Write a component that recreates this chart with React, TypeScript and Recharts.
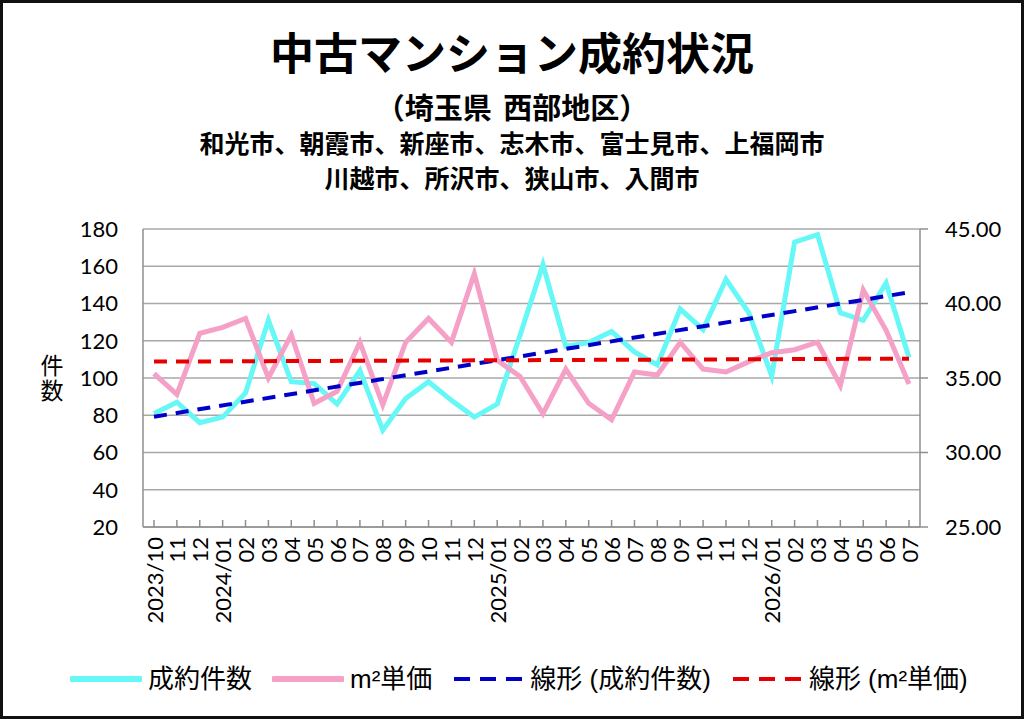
import { CartesianGrid, ComposedChart, Line, ReferenceLine, XAxis, YAxis } from 'recharts';

const months = [
  '2023/10', '2023/11', '2023/12',
  '2024/01', '2024/02', '2024/03', '2024/04', '2024/05', '2024/06',
  '2024/07', '2024/08', '2024/09', '2024/10', '2024/11', '2024/12',
  '2025/01', '2025/02', '2025/03', '2025/04', '2025/05', '2025/06',
  '2025/07', '2025/08', '2025/09', '2025/10', '2025/11', '2025/12',
  '2026/01', '2026/02', '2026/03', '2026/04', '2026/05', '2026/06', '2026/07',
];

const tickLabels = [
  '2023/10', '11', '12',
  '2024/01', '02', '03', '04', '05', '06', '07', '08', '09', '10', '11', '12',
  '2025/01', '02', '03', '04', '05', '06', '07', '08', '09', '10', '11', '12',
  '2026/01', '02', '03', '04', '05', '06', '07',
];

// 成約件数
const counts = [
  81, 87, 76, 79, 92, 131, 98, 97, 86, 104, 72, 89, 98, 88, 79,
  86, 123, 161, 117, 119, 125, 114, 107, 137, 126, 153, 135,
  101, 173, 177, 135, 131, 151, 111,
];

// m²単価 (万円)
const prices = [
  35.3, 33.9, 38.0, 38.4, 39.0, 35.0, 37.9, 33.3, 34.1, 37.4, 33.2, 37.4, 39.0, 37.4, 42.0,
  36.2, 35.1, 32.6, 35.6, 33.3, 32.2, 35.4, 35.2, 37.4, 35.6, 35.4, 36.1,
  36.7, 36.9, 37.4, 34.5, 40.9, 38.2, 34.6,
];

// trend line end points
const countTrend = [79.2, 146];
const priceTrend = [36.1, 36.3];

const leftTicks = [20, 40, 60, 80, 100, 120, 140, 160, 180];
const rightTicks = [25, 30, 35, 40, 45];

const data = months.map((m, i) => ({ month: m, count: counts[i], price: prices[i] }));

const AXIS_GRAY = '#8f8f8f';
const CYAN = '#66F7F7';
const PINK = '#F5A0C6';
const BLUE = '#0000C8';
const RED = '#E80000';
const NUM_FONT = 'Lato, "Noto Sans CJK JP", sans-serif';
const JP_FONT = '"Noto Sans CJK JP", sans-serif';

const XTick = (props: any) => {
  const { x, y, payload } = props;
  const label = tickLabels[payload.index] ?? payload.value;
  return (
    <g>
      <line x1={x} y1={y - 10} x2={x} y2={y - 17} stroke={AXIS_GRAY} strokeWidth={1.5} />
      <text
        x={x}
        y={y}
        transform={`rotate(-90 ${x} ${y})`}
        textAnchor="end"
        dominantBaseline="central"
        fontSize={22}
        fontFamily={NUM_FONT}
        fill="#000"
      >
        {label}
      </text>
    </g>
  );
};

const Swatch = ({ color, dashed }: { color: string; dashed?: boolean }) => (
  <svg width={72} height={10} style={{ marginRight: 6 }}>
    <line
      x1={2}
      y1={5}
      x2={70}
      y2={5}
      stroke={color}
      strokeWidth={dashed ? 4 : 6}
      strokeDasharray={dashed ? '16 10' : undefined}
      strokeLinecap={dashed ? 'butt' : 'round'}
    />
  </svg>
);

const legendItems = [
  { name: '成約件数', color: CYAN, dashed: false },
  { name: 'm²単価', color: PINK, dashed: false },
  { name: '線形 (成約件数)', color: BLUE, dashed: true },
  { name: '線形 (m²単価)', color: RED, dashed: true },
];

export default function App() {
  return (
    <div
      style={{
        position: 'relative',
        width: 1024,
        height: 719,
        boxSizing: 'border-box',
        border: '3px solid #111',
        background: '#fff',
        overflow: 'hidden',
        fontFamily: JP_FONT,
      }}
    >
      <style>{'body{margin:0}'}</style>

      <div style={{ position: 'absolute', left: -3, width: 1024, top: 22, textAlign: 'center', fontSize: 44, lineHeight: '52px', fontWeight: 700 }}>
        中古マンション成約状況
      </div>
      <div
        style={{
          position: 'absolute',
          left: -3,
          width: 1024,
          top: 86,
          textAlign: 'center',
          fontSize: 29,
          lineHeight: '34px',
          fontWeight: 700,
          wordSpacing: 5,
          fontFeatureSettings: '"halt"',
        }}
      >
        （埼玉県 西部地区）
      </div>
      <div style={{ position: 'absolute', left: -3, width: 1024, top: 123, textAlign: 'center', fontSize: 25, lineHeight: '32px', fontWeight: 700 }}>
        和光市、朝霞市、新座市、志木市、富士見市、上福岡市
      </div>
      <div style={{ position: 'absolute', left: -3, width: 1024, top: 158, textAlign: 'center', fontSize: 25, lineHeight: '32px', fontWeight: 700 }}>
        川越市、所沢市、狭山市、入間市
      </div>

      <div
        style={{
          position: 'absolute',
          left: 34,
          top: 351,
          fontSize: 23,
          lineHeight: '30px',
          writingMode: 'vertical-rl',
          textOrientation: 'upright',
          letterSpacing: 2,
        }}
      >
        件数
      </div>

      <div style={{ position: 'absolute', left: -3, top: -3 }}>
        <ComposedChart
          width={1024}
          height={719}
          data={data}
          margin={{ top: 229, right: 14, left: 63, bottom: 82 }}
        >
          <CartesianGrid yAxisId="left" vertical={false} stroke="#a8a8a8" strokeWidth={1.5} />
          <XAxis
            dataKey="month"
            interval={0}
            height={110}
            padding={{ left: 11, right: 11 }}
            tickLine={false}
            tickSize={0}
            tickMargin={10}
            axisLine={{ stroke: AXIS_GRAY, strokeWidth: 1.5 }}
            tick={<XTick />}
          />
          <YAxis
            yAxisId="left"
            domain={[20, 180]}
            ticks={leftTicks}
            width={80}
            tickLine={false}
            tickSize={0}
            tickMargin={25}
            axisLine={{ stroke: AXIS_GRAY, strokeWidth: 1.5 }}
            tick={{ fontSize: 22, fill: '#000', fontFamily: NUM_FONT }}
          />
          <YAxis
            yAxisId="right"
            orientation="right"
            domain={[25, 45]}
            ticks={rightTicks}
            width={90}
            tickSize={8}
            tickMargin={17}
            tickLine={{ stroke: AXIS_GRAY, strokeWidth: 1.5 }}
            axisLine={{ stroke: AXIS_GRAY, strokeWidth: 1.5 }}
            tickFormatter={(v: number) => v.toFixed(2)}
            tick={{ fontSize: 22, fill: '#000', fontFamily: NUM_FONT, textAnchor: 'start' }}
          />
          <Line
            yAxisId="left"
            type="linear"
            dataKey="count"
            stroke={CYAN}
            strokeWidth={5}
            dot={false}
            isAnimationActive={false}
          />
          <Line
            yAxisId="right"
            type="linear"
            dataKey="price"
            stroke={PINK}
            strokeWidth={5}
            dot={false}
            isAnimationActive={false}
          />
          <ReferenceLine
            yAxisId="left"
            segment={[
              { x: months[0], y: countTrend[0] },
              { x: months[months.length - 1], y: countTrend[1] },
            ]}
            stroke={BLUE}
            strokeWidth={4}
            strokeDasharray="13 9"
          />
          <ReferenceLine
            yAxisId="right"
            segment={[
              { x: months[0], y: priceTrend[0] },
              { x: months[months.length - 1], y: priceTrend[1] },
            ]}
            stroke={RED}
            strokeWidth={4}
            strokeDasharray="13 9"
          />
        </ComposedChart>
      </div>

      <div
        style={{
          position: 'absolute',
          left: 67,
          top: 658,
          display: 'flex',
          alignItems: 'center',
          fontSize: 26,
          lineHeight: '36px',
          fontFamily: '"Liberation Sans", "Noto Sans CJK JP", sans-serif',
        }}
      >
        {legendItems.map((item) => (
          <div key={item.name} style={{ display: 'flex', alignItems: 'center', marginRight: 20 }}>
            <Swatch color={item.color} dashed={item.dashed} />
            <span>{item.name}</span>
          </div>
        ))}
      </div>
    </div>
  );
}
